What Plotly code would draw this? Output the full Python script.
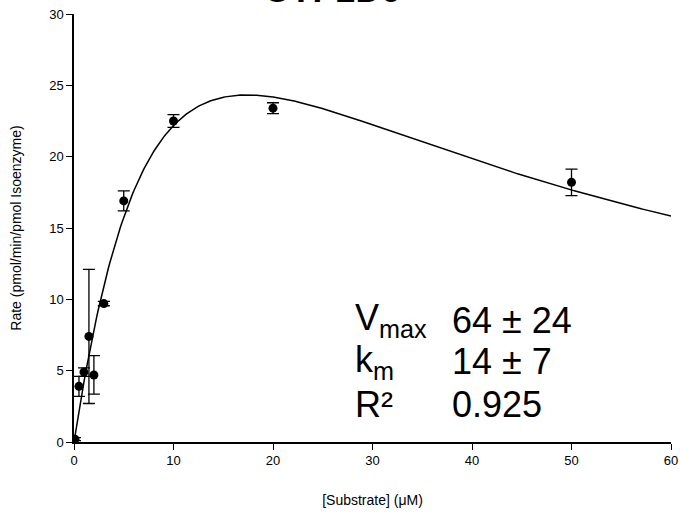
import numpy as np
import plotly.graph_objects as go

# Observed data
substrate = [0.1, 0.5, 1.0, 1.5, 2.0, 3.0, 5.0, 10.0, 20.0, 50.0]
rate = [0.2, 3.9, 4.9, 7.4, 4.7, 9.7, 16.9, 22.5, 23.4, 18.2]
rate_err = [0.1, 0.7, 0.3, 4.7, 1.35, 0.15, 0.7, 0.45, 0.38, 0.93]

# Fitted substrate-inhibition model parameters
vmax = 63.5
km = 14.0
ki = 21.6

x_ticks = [0, 10, 20, 30, 40, 50, 60]
y_ticks = [0, 5, 10, 15, 20, 25, 30]

xs = np.linspace(0, 60, 400)
fit = vmax * xs / (km + xs + xs ** 2 / ki)

fig = go.Figure()
fig.add_trace(go.Scatter(x=xs, y=fit, mode="lines",
                         line=dict(color="black", width=1.5),
                         hoverinfo="skip", showlegend=False))
fig.add_trace(go.Scatter(x=substrate, y=rate, mode="markers",
                         marker=dict(color="black", size=9),
                         error_y=dict(type="data", array=rate_err, visible=True,
                                      color="black", thickness=1.3, width=6),
                         showlegend=False))

font_family = "Liberation Sans, Arial, sans-serif"

fig.update_layout(
    width=680, height=517,
    margin=dict(l=74, r=9, t=14, b=75),
    paper_bgcolor="white", plot_bgcolor="white",
    font=dict(family=font_family, color="black", size=13),
    xaxis=dict(range=[0, 60], tickvals=x_ticks, showgrid=False, zeroline=False,
               showline=True, linecolor="black", linewidth=1.5, automargin=False,
               ticks="outside", ticklen=6, tickcolor="black", tickwidth=1.2,
               tickfont=dict(size=13),
               title=dict(text="[Substrate] (μM)", font=dict(size=14), standoff=28)),
    yaxis=dict(range=[0, 30], tickvals=y_ticks, showgrid=False, zeroline=False,
               showline=True, linecolor="black", linewidth=1.5, automargin=False,
               ticks="outside", ticklen=6, tickcolor="black", tickwidth=1.2,
               tickfont=dict(size=13),
               title=dict(text="Rate (pmol/min/pmol Isoenzyme)", font=dict(size=14), standoff=24)),
    showlegend=False,
)

# Title (partly cut off at top, as in the reference)
fig.add_annotation(text="<b>CYP2D6</b>", xref="paper", yref="paper",
                   x=0.432, y=1.058, xanchor="center", yanchor="middle",
                   showarrow=False, font=dict(size=35, family=font_family))

labels = ["V<sub>max</sub>", "k<sub>m</sub>", "R²"]
values = ["64 ± 24", "14 ± 7", "0.925"]
label_y = [8.55, 5.61, 2.6]
for lab, val, yy in zip(labels, values, label_y):
    fig.add_annotation(text=lab, x=28.0, y=yy, xanchor="left", yanchor="middle",
                       showarrow=False, font=dict(size=36, family=font_family))
    fig.add_annotation(text=val, x=37.8, y=yy, xanchor="left", yanchor="middle",
                       showarrow=False, font=dict(size=36, family=font_family))

# Remove the default page margin so the figure sits at the window's top-left corner
fig.write_html("out.html", config={"displayModeBar": False},
               post_script="document.body.style.margin='0';")
